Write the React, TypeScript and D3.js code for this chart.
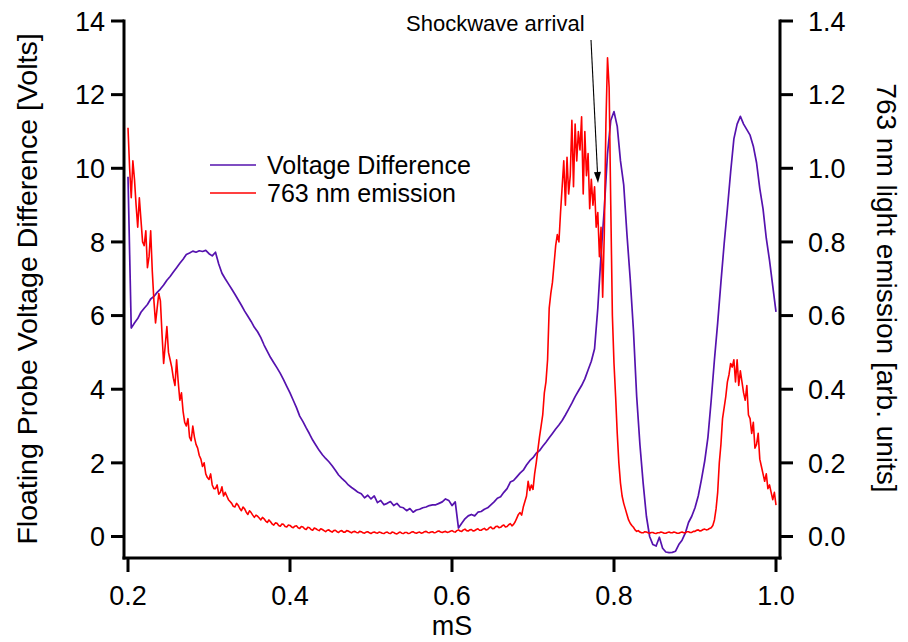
import React from "react";
import * as d3 from "d3";

// Sampling of the recorded traces (mS)
const T_START = 0.2;
const VOLT_STEP = 0.004;
const EMIS_STEP = 0.002;

// Floating probe voltage difference (Volts), left axis
const voltage = [
  9.77, 5.66, 5.80, 5.92, 6.09, 6.20, 6.30, 6.45, 6.52, 6.63,
  6.72, 6.83, 6.96, 7.06, 7.18, 7.30, 7.42, 7.53, 7.66, 7.70,
  7.75, 7.72, 7.76, 7.74, 7.77, 7.68, 7.62, 7.72, 7.40, 7.15,
  7.00, 6.86, 6.72, 6.58, 6.43, 6.28, 6.12, 5.98, 5.84, 5.68,
  5.56, 5.40, 5.20, 5.03, 4.86, 4.72, 4.58, 4.43, 4.26, 4.08,
  3.90, 3.70, 3.50, 3.27, 3.12, 2.95, 2.79, 2.62, 2.48, 2.34,
  2.22, 2.12, 2.03, 1.92, 1.80, 1.67, 1.58, 1.50, 1.40, 1.33,
  1.27, 1.20, 1.16, 1.05, 1.12, 1.02, 1.10, 0.92, 0.98, 0.86,
  0.90, 0.95, 0.84, 0.90, 0.80, 0.78, 0.70, 0.76, 0.66, 0.72,
  0.74, 0.78, 0.80, 0.84, 0.86, 0.86, 0.90, 0.94, 1.02, 0.98,
  0.84, 0.94, 0.23, 0.36, 0.48, 0.56, 0.60, 0.56, 0.66, 0.68,
  0.74, 0.78, 0.86, 0.94, 1.04, 1.08, 1.20, 1.30, 1.48, 1.52,
  1.62, 1.72, 1.80, 1.94, 2.06, 2.14, 2.26, 2.33, 2.45, 2.56,
  2.68, 2.80, 2.92, 3.03, 3.15, 3.30, 3.46, 3.62, 3.80, 3.95,
  4.10, 4.28, 4.52, 4.76, 5.10, 6.20, 7.65, 8.90, 10.40, 11.30,
  11.54, 11.14, 10.20, 9.55, 8.20, 7.00, 5.60, 3.80, 2.50, 1.45,
  0.55, 0.00, -0.22, -0.26, -0.02, -0.32, -0.42, -0.44, -0.43, -0.40,
  -0.22, -0.10, 0.09, 0.38, 0.55, 0.78, 1.10, 1.55, 2.05, 2.70,
  3.70, 4.80, 5.80, 6.90, 7.95, 8.90, 9.90, 10.80, 11.20, 11.41,
  11.20, 11.05, 10.90, 10.60, 10.15, 9.45, 8.90, 8.10, 7.50, 6.80,
  6.10,
];

// 763 nm light emission (arb. units), right axis
const emission = [
  1.11, 1.00, 0.92, 1.02, 0.97, 0.90, 0.84, 0.92, 0.86, 0.80, 0.79, 0.83, 0.73, 0.76, 0.83, 0.72, 0.64, 0.58, 0.62, 0.66,
  0.64, 0.55, 0.47, 0.52, 0.57, 0.50, 0.48, 0.46, 0.43, 0.41, 0.48, 0.42, 0.37, 0.39, 0.34, 0.31, 0.30, 0.32, 0.27, 0.26,
  0.30, 0.27, 0.25, 0.24, 0.22, 0.21, 0.19, 0.20, 0.17, 0.16, 0.155, 0.17, 0.14, 0.13, 0.13, 0.14, 0.115, 0.12, 0.135, 0.11,
  0.12, 0.11, 0.10, 0.095, 0.09, 0.082, 0.08, 0.09, 0.085, 0.076, 0.07, 0.08, 0.075, 0.066, 0.06, 0.07, 0.065, 0.058, 0.052, 0.058,
  0.055, 0.050, 0.045, 0.052, 0.048, 0.042, 0.038, 0.045, 0.040, 0.034, 0.031, 0.037, 0.036, 0.030, 0.028, 0.034, 0.033, 0.027, 0.026, 0.031,
  0.030, 0.026, 0.024, 0.028, 0.029, 0.024, 0.022, 0.027, 0.026, 0.021, 0.019, 0.025, 0.024, 0.019, 0.017, 0.023, 0.021, 0.018, 0.016, 0.021,
  0.019, 0.016, 0.013, 0.017, 0.018, 0.014, 0.012, 0.016, 0.017, 0.013, 0.011, 0.015, 0.016, 0.012, 0.012, 0.016, 0.015, 0.012, 0.010, 0.013,
  0.014, 0.011, 0.010, 0.014, 0.013, 0.010, 0.009, 0.012, 0.013, 0.010, 0.008, 0.011, 0.012, 0.010, 0.009, 0.012, 0.011, 0.009, 0.008, 0.011,
  0.012, 0.009, 0.008, 0.012, 0.011, 0.008, 0.007, 0.010, 0.012, 0.009, 0.008, 0.011, 0.011, 0.008, 0.009, 0.012, 0.013, 0.010, 0.009, 0.011,
  0.012, 0.009, 0.010, 0.013, 0.014, 0.011, 0.010, 0.012, 0.013, 0.010, 0.011, 0.014, 0.015, 0.012, 0.011, 0.013, 0.014, 0.011, 0.012, 0.014,
  0.016, 0.013, 0.012, 0.016, 0.018, 0.015, 0.014, 0.018, 0.020, 0.016, 0.015, 0.018, 0.019, 0.015, 0.016, 0.019, 0.021, 0.017, 0.017, 0.020,
  0.022, 0.018, 0.019, 0.024, 0.026, 0.021, 0.022, 0.027, 0.028, 0.024, 0.025, 0.029, 0.031, 0.026, 0.027, 0.032, 0.035, 0.029, 0.033, 0.040,
  0.050, 0.060, 0.065, 0.058, 0.080, 0.095, 0.110, 0.150, 0.125, 0.140, 0.128, 0.170, 0.200, 0.235, 0.270, 0.300, 0.330, 0.390, 0.420, 0.48,
  0.62, 0.66, 0.69, 0.74, 0.79, 0.82, 0.80, 0.88, 0.95, 1.02, 0.90, 1.03, 0.93, 0.98, 1.13, 0.95, 1.12, 1.02, 1.10, 1.05,
  1.14, 0.93, 1.10, 0.98, 1.04, 0.89, 0.97, 0.90, 0.95, 0.84, 0.88, 0.76, 0.84, 0.65, 0.82, 1.12, 1.30, 1.22, 0.90, 0.60,
  0.47, 0.38, 0.28, 0.20, 0.145, 0.11, 0.09, 0.075, 0.06, 0.045, 0.036, 0.030, 0.025, 0.018, 0.014, 0.016, 0.012, 0.010, 0.010, 0.013,
  0.012, 0.010, 0.009, 0.011, 0.011, 0.009, 0.008, 0.010, 0.010, 0.012, 0.011, 0.009, 0.009, 0.011, 0.012, 0.010, 0.010, 0.012, 0.011, 0.009,
  0.009, 0.011, 0.012, 0.010, 0.010, 0.013, 0.013, 0.011, 0.011, 0.014, 0.014, 0.017, 0.018, 0.015, 0.016, 0.019, 0.020, 0.018, 0.019, 0.022,
  0.024, 0.030, 0.045, 0.075, 0.12, 0.20, 0.25, 0.32, 0.35, 0.38, 0.42, 0.44, 0.47, 0.46, 0.48, 0.42, 0.48, 0.41, 0.45, 0.42,
  0.39, 0.37, 0.41, 0.33, 0.32, 0.28, 0.31, 0.24, 0.25, 0.28, 0.21, 0.19, 0.17, 0.15, 0.17, 0.13, 0.14, 0.12, 0.10, 0.12,
  0.085,
];

const xTicks = [0.2, 0.4, 0.6, 0.8, 1.0];
const leftTicks = [0, 2, 4, 6, 8, 10, 12, 14];
const rightTicks = [0, 0.2, 0.4, 0.6, 0.8, 1.0, 1.2, 1.4];

const seriesNames = ["Voltage Difference", "763 nm emission"];
const seriesColors = ["#5512ae", "#ff0000"];

const FONT = "'Liberation Sans', Arial, Helvetica, sans-serif";

export default function App() {
  const width = 908;
  const height = 642;

  const x = d3.scaleLinear().domain([0.2, 1.0]).range([128, 776]);
  const yLeft = d3.scaleLinear().domain([0, 14]).range([536.5, 21]);
  const yRight = d3.scaleLinear().domain([0, 1.4]).range([536.5, 21]);

  const axisLeftX = 124;
  const axisRightX = 780;
  const axisBottomY = 558;
  const axisTop = 19.5;

  const voltPts = voltage.map((v, i) => [T_START + i * VOLT_STEP, v] as [number, number]);
  const emisPts = emission.map((v, i) => [T_START + i * EMIS_STEP, v] as [number, number]);

  const voltLine = d3
    .line<[number, number]>()
    .x((d) => x(d[0]))
    .y((d) => yLeft(d[1]));
  const emisLine = d3
    .line<[number, number]>()
    .x((d) => x(d[0]))
    .y((d) => yRight(d[1]));

  const fmt1 = d3.format(".1f");

  // arrow for the shockwave annotation
  const ax0 = 591, ay0 = 40, ax1 = 598, ay1 = 183;
  const ang = Math.atan2(ay1 - ay0, ax1 - ax0);
  const headLen = 11, headHalf = 3.5;
  const bx = ax1 - headLen * Math.cos(ang);
  const by = ay1 - headLen * Math.sin(ang);
  const px = -Math.sin(ang) * headHalf;
  const py = Math.cos(ang) * headHalf;

  return (
    <svg
      width={width}
      height={height}
      style={{ position: "absolute", left: 0, top: 0, background: "#fff" }}
      fontFamily={FONT}
    >
      <rect x={0} y={0} width={width} height={height} fill="#fff" />

      {/* traces */}
      <path d={voltLine(voltPts) || ""} fill="none" stroke={seriesColors[0]} strokeWidth={1.7} strokeLinejoin="round" />
      <path d={emisLine(emisPts) || ""} fill="none" stroke={seriesColors[1]} strokeWidth={1.6} strokeLinejoin="round" />

      {/* axes frame */}
      <g stroke="#000" strokeWidth={3} fill="none">
        <line x1={axisLeftX} y1={axisTop} x2={axisLeftX} y2={axisBottomY + 1.5} />
        <line x1={axisRightX} y1={axisTop} x2={axisRightX} y2={axisBottomY + 1.5} />
        <line x1={axisLeftX - 1.5} y1={axisBottomY} x2={axisRightX + 1.5} y2={axisBottomY} />
        {leftTicks.map((t) => (
          <line key={"lt" + t} x1={axisLeftX - 13} y1={yLeft(t)} x2={axisLeftX} y2={yLeft(t)} />
        ))}
        {rightTicks.map((t) => (
          <line key={"rt" + t} x1={axisRightX} y1={yRight(t)} x2={axisRightX + 13} y2={yRight(t)} />
        ))}
        {xTicks.map((t) => (
          <line key={"xt" + t} x1={x(t)} y1={axisBottomY} x2={x(t)} y2={axisBottomY + 14} />
        ))}
      </g>

      {/* tick labels */}
      <g fontSize={27} fill="#000">
        {leftTicks.map((t) => (
          <text key={"ll" + t} x={105} y={yLeft(t)} dy="0.36em" textAnchor="end">
            {t}
          </text>
        ))}
        {rightTicks.map((t) => (
          <text key={"rl" + t} x={808} y={yRight(t)} dy="0.36em" textAnchor="start">
            {fmt1(t)}
          </text>
        ))}
        {xTicks.map((t) => (
          <text key={"xl" + t} x={x(t)} y={595} dy="0.36em" textAnchor="middle">
            {fmt1(t)}
          </text>
        ))}
      </g>

      {/* axis titles */}
      <text
        transform="translate(27,289) rotate(-90)"
        textAnchor="middle"
        dy="0.36em"
        fontSize={28.5}
      >
        Floating Probe Voltage Difference [Volts]
      </text>
      <text
        transform="translate(887,288) rotate(90)"
        textAnchor="middle"
        dy="0.36em"
        fontSize={28}
      >
        763 nm light emission [arb. units]
      </text>
      <text x={452} y={625} dy="0.36em" textAnchor="middle" fontSize={27}>
        mS
      </text>

      {/* legend */}
      {seriesNames.map((name, i) => (
        <g key={name} transform={`translate(0,${165 + i * 28})`}>
          <line x1={210} x2={256} y1={0} y2={0} stroke={seriesColors[i]} strokeWidth={1.4} />
          <text x={267} y={0} dy="0.36em" fontSize={25}>
            {name}
          </text>
        </g>
      ))}

      {/* annotation */}
      <text x={406} y={31} fontSize={22}>
        Shockwave arrival
      </text>
      <line x1={ax0} y1={ay0} x2={bx} y2={by} stroke="#000" strokeWidth={1.1} />
      <polygon
        points={`${ax1},${ay1} ${bx + px},${by + py} ${bx - px},${by - py}`}
        fill="#000"
      />
    </svg>
  );
}
